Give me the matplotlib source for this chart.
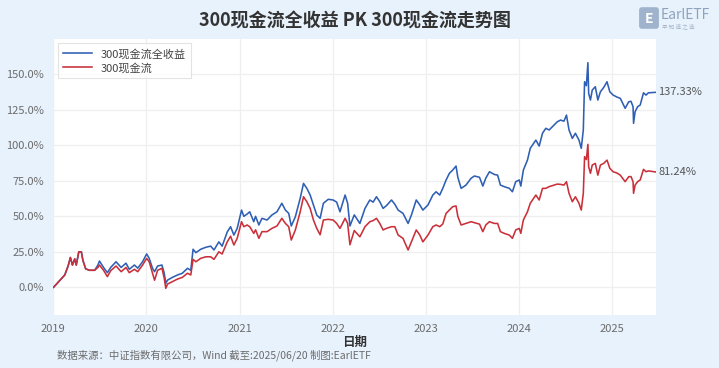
import matplotlib
matplotlib.use("Agg")
import matplotlib.pyplot as plt
import matplotlib.dates as mdates
from matplotlib.patches import FancyBboxPatch
import pandas as pd

plt.rcParams['font.family'] = ['Noto Sans CJK SC', 'DejaVu Sans']

title = "300现金流全收益 PK 300现金流走势图"
series_names = ["300现金流全收益", "300现金流"]
footer = "数据来源：中证指数有限公司，Wind 截至:2025/06/20 制图:EarlETF"
xlabel = "日期"

dates = [
    "2019-01-02", "2019-01-27", "2019-02-15", "2019-02-28", "2019-03-09", "2019-03-17", "2019-03-26",
    "2019-04-01", "2019-04-11", "2019-04-21", "2019-04-27", "2019-05-08", "2019-05-23", "2019-06-12",
    "2019-06-25", "2019-07-01", "2019-07-17", "2019-08-01", "2019-08-14", "2019-09-04", "2019-09-24",
    "2019-10-13", "2019-10-26", "2019-11-15", "2019-11-28", "2019-12-17", "2020-01-02", "2020-01-12",
    "2020-01-25", "2020-02-02", "2020-02-14", "2020-03-02", "2020-03-11", "2020-03-17", "2020-03-24",
    "2020-04-12", "2020-05-02", "2020-05-21", "2020-06-10", "2020-06-23", "2020-07-02", "2020-07-13",
    "2020-08-01", "2020-08-21", "2020-09-09", "2020-09-22", "2020-10-11", "2020-10-24", "2020-11-13",
    "2020-11-26", "2020-12-09", "2020-12-22", "2021-01-08", "2021-01-17", "2021-01-30", "2021-02-09",
    "2021-02-25", "2021-03-04", "2021-03-17", "2021-03-29", "2021-04-18", "2021-05-07", "2021-05-27",
    "2021-06-15", "2021-06-29", "2021-07-12", "2021-07-22", "2021-08-07", "2021-08-26", "2021-09-08",
    "2021-09-21", "2021-10-04", "2021-10-17", "2021-10-30", "2021-11-12", "2021-11-25", "2021-12-14",
    "2022-01-02", "2022-01-16", "2022-01-29", "2022-02-18", "2022-02-28", "2022-03-09", "2022-03-26",
    "2022-04-17", "2022-05-07", "2022-05-26", "2022-06-08", "2022-06-21", "2022-07-04", "2022-07-17",
    "2022-07-30", "2022-08-19", "2022-09-01", "2022-09-14", "2022-10-03", "2022-10-23", "2022-11-05",
    "2022-11-24", "2022-12-08", "2022-12-20", "2023-01-09", "2023-01-28", "2023-02-10", "2023-02-24",
    "2023-03-08", "2023-03-21", "2023-04-03", "2023-04-16", "2023-04-29", "2023-05-06", "2023-05-19",
    "2023-06-07", "2023-06-27", "2023-07-10", "2023-07-30", "2023-08-12", "2023-08-24", "2023-09-07",
    "2023-09-26", "2023-10-09", "2023-10-20", "2023-11-04", "2023-11-24", "2023-12-06", "2023-12-19",
    "2024-01-02", "2024-01-08", "2024-01-18", "2024-02-03", "2024-02-14", "2024-02-27", "2024-03-07",
    "2024-03-20", "2024-04-02", "2024-04-15", "2024-04-28", "2024-05-17", "2024-05-30", "2024-06-12",
    "2024-06-25", "2024-07-05", "2024-07-15", "2024-07-28", "2024-08-09", "2024-08-23", "2024-09-01",
    "2024-09-09", "2024-09-14", "2024-09-21", "2024-09-27", "2024-09-30", "2024-10-07", "2024-10-14",
    "2024-10-26", "2024-11-05", "2024-11-15", "2024-11-28", "2024-12-11", "2024-12-22", "2025-01-04",
    "2025-01-19", "2025-02-01", "2025-02-20", "2025-03-06", "2025-03-15", "2025-03-23", "2025-03-25",
    "2025-03-31", "2025-04-10", "2025-04-20", "2025-05-03", "2025-05-13", "2025-05-22", "2025-06-20",
]

total_return = [
    0.0, 5.0, 8.7, 15.0, 21.0, 15.7, 20.0,
    15.7, 25.0, 25.0, 19.0, 13.0, 12.0, 12.0,
    15.7, 18.5, 14.0, 10.3, 14.0, 18.0, 14.0,
    17.0, 12.7, 15.7, 13.5, 18.0, 23.5, 20.4,
    13.4, 11.0, 15.0, 15.7, 9.9, 2.8, 5.1,
    7.0, 8.7, 9.9, 13.4, 12.0, 26.8, 24.4,
    26.8, 28.2, 29.0, 26.3, 32.0, 29.0, 39.0,
    42.7, 36.8, 41.5, 54.4, 50.0, 51.6, 53.2,
    46.2, 50.0, 43.9, 48.6, 47.4, 50.9, 53.2,
    59.2, 54.4, 52.1, 43.2, 49.7, 62.7, 73.2,
    69.7, 65.0, 58.0, 50.9, 48.6, 59.2, 62.0,
    61.5, 60.0, 53.2, 65.0, 59.2, 43.2, 51.0,
    45.0, 55.6, 61.5, 60.0, 63.8, 60.3, 55.6,
    57.5, 61.5, 58.5, 54.4, 52.1, 45.0, 50.9,
    61.5, 58.0, 54.4, 58.0, 65.0, 67.3, 65.0,
    69.7, 75.6, 80.3, 82.6, 85.4, 77.5, 69.7,
    72.0, 76.8, 78.4, 77.5, 71.3, 77.0, 81.4,
    79.5, 79.0, 72.0, 70.9, 69.7, 67.3, 74.4,
    75.6, 71.3, 82.6, 89.6, 97.9, 101.4, 103.7,
    99.5, 108.5, 112.0, 110.8, 114.3, 116.6, 117.8,
    117.0, 121.3, 110.8, 104.9, 108.5, 103.7, 97.9,
    110.8, 144.8, 142.0, 158.2, 136.6, 131.9, 138.9,
    141.3, 131.9, 137.7, 140.8, 144.8, 137.7, 135.4,
    134.0, 133.1, 126.1, 130.7, 131.0, 127.2, 115.5,
    123.7, 127.2, 128.4, 137.0, 135.4, 137.0, 137.33,
]

price_index = [
    0.0, 5.0, 8.7, 15.0, 21.0, 15.7, 20.0,
    15.7, 25.0, 25.0, 19.0, 13.0, 12.0, 12.0,
    14.0, 15.7, 12.0, 7.5, 11.7, 15.0, 11.0,
    14.0, 10.3, 12.7, 11.0, 15.7, 20.4, 18.0,
    9.9, 5.0, 12.0, 13.4, 6.3, -0.7, 2.3,
    4.0, 5.8, 7.0, 9.9, 8.7, 19.7, 18.0,
    20.4, 21.5, 21.5, 19.7, 25.0, 23.5, 32.0,
    36.0, 29.8, 34.5, 46.2, 42.7, 43.9, 42.7,
    38.0, 40.5, 34.5, 39.2, 39.2, 41.5, 43.2,
    48.6, 45.0, 42.7, 33.3, 40.4, 53.2, 63.8,
    60.3, 55.6, 47.4, 41.5, 37.0, 47.4, 47.9,
    47.4, 45.0, 41.5, 48.6, 45.0, 30.0, 40.0,
    35.6, 42.7, 46.2, 47.0, 48.6, 45.0, 40.4,
    41.5, 42.7, 42.7, 36.8, 34.5, 26.3, 32.0,
    40.4, 36.8, 32.0, 36.8, 42.7, 43.9, 42.7,
    44.6, 52.1, 54.4, 56.8, 57.3, 50.0, 43.9,
    45.0, 46.2, 45.5, 44.5, 39.2, 44.0, 46.2,
    45.0, 45.0, 39.2, 38.0, 36.8, 34.5, 40.4,
    41.5, 38.0, 47.4, 53.2, 59.2, 62.7, 65.0,
    61.5, 69.7, 69.7, 70.9, 72.0, 72.7, 72.5,
    72.0, 74.4, 66.2, 60.3, 63.8, 59.2, 54.4,
    66.2, 92.0, 90.0, 100.7, 84.9, 80.3, 86.1,
    87.3, 79.0, 86.1, 87.3, 89.6, 83.8, 81.4,
    80.5, 79.0, 74.4, 77.9, 78.0, 74.4, 66.2,
    72.0, 74.4, 75.6, 83.1, 81.4, 82.0, 81.24,
]

y_ticks = [0, 25, 50, 75, 100, 125, 150]
x_years = [2019, 2020, 2021, 2022, 2023, 2024, 2025]

W, H = 719, 368
fig = plt.figure(figsize=(W / 100, H / 100), dpi=100)
fig.patch.set_facecolor('#e8f2fc')

ax = fig.add_axes([53.3 / W, 1 - 315 / H, (656 - 53.3) / W, (315 - 39) / H])
ax.set_facecolor('white')

x = pd.to_datetime(dates)
blue = '#2f5fb4'
red = '#c9303a'
ax.plot(x, total_return, color=blue, lw=1.15, label=series_names[0])
ax.plot(x, price_index, color=red, lw=1.15, label=series_names[1])

ax.set_xlim(pd.Timestamp("2019-01-01"), pd.Timestamp("2025-06-21"))
ax.set_ylim(-19.5, 174.9)
ax.set_yticks(y_ticks)
ax.set_yticklabels([f"{v:.1f}%" for v in y_ticks])
ax.set_xticks([pd.Timestamp(f"{y}-01-01") for y in x_years])
ax.set_xticklabels([str(y) for y in x_years])

for s in ax.spines.values():
    s.set_visible(False)
ax.grid(True, color='#efefef', lw=0.9)
ax.set_axisbelow(True)
ax.tick_params(axis='both', length=0, labelsize=8, labelcolor='#6b6b6b')
ax.tick_params(axis='y', pad=6.5)
ax.tick_params(axis='x', pad=6.5)

leg = ax.legend(loc='upper left', fontsize=8, frameon=True, borderaxespad=0.4,
                handlelength=2.6, labelspacing=0.3, borderpad=0.45, fancybox=False)
leg.get_frame().set_edgecolor('#dddddd')
leg.get_frame().set_linewidth(0.8)
for t in leg.get_texts():
    t.set_color('#444444')

ax.annotate(f"{total_return[-1]:.2f}%", xy=(x[-1], total_return[-1]), xytext=(2, 0),
            textcoords='offset points', va='center', ha='left', fontsize=8,
            color='#555555', annotation_clip=False)
ax.annotate(f"{price_index[-1]:.2f}%", xy=(x[-1], price_index[-1]), xytext=(2, 0),
            textcoords='offset points', va='center', ha='left', fontsize=8,
            color='#555555', annotation_clip=False)

fig.text(355 / W, 1 - 21 / H, title, ha='center', va='center', fontsize=13,
         fontweight='bold', color='#333333')
fig.text(355 / W, 1 - 342 / H, xlabel, ha='center', va='center', fontsize=9,
         fontweight='bold', color='#333333')
fig.text(57 / W, 1 - 355 / H, footer, ha='left', va='center', fontsize=7.5,
         color='#6b6b6b')

# logo
logo_ax = fig.add_axes([638 / W, 1 - 30 / H, 22 / W, 24 / H])
logo_ax.axis('off')
logo_ax.add_patch(FancyBboxPatch((0.05, 0.05), 0.9, 0.9, boxstyle="round,pad=0.0,rounding_size=0.12",
                                 fc='#9fb3cc', ec='none', transform=logo_ax.transAxes))
logo_ax.text(0.5, 0.45, "E", ha='center', va='center', color='white', fontsize=10,
             fontweight='bold', transform=logo_ax.transAxes)
fig.text(661 / W, 1 - 15 / H, "EarlETF", ha='left', va='center', fontsize=10,
         color='#8ea3bf')
fig.text(662 / W, 1 - 26 / H, "早 知 道 之 选", ha='left', va='center', fontsize=4,
         color='#a6b6c9')

fig.savefig("out.png", dpi=100, facecolor=fig.get_facecolor())
